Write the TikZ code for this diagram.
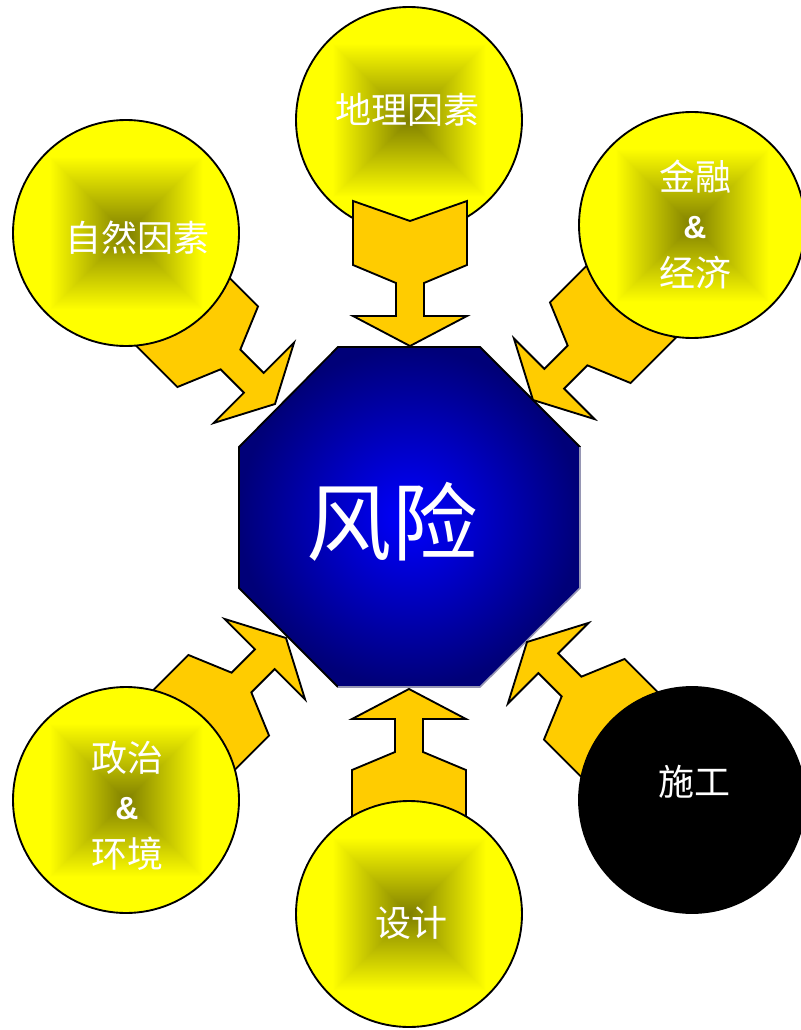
\documentclass[tikz,border=0pt]{standalone}
\usepackage{fontspec}
\newfontfamily\cjk{Noto Sans CJK SC}
\newfontfamily\ampfont{Liberation Sans}
\usepackage{tikz}

\definecolor{arrowgold}{RGB}{255,204,0}
\definecolor{riskblue}{RGB}{0,0,255}
\definecolor{risknavy}{RGB}{0,0,120}
\definecolor{octrim}{RGB}{150,150,180}

% square glow: olive in the middle, yellow towards the rim
\pgfdeclarefunctionalshading{sqglow}{\pgfpoint{-50bp}{-50bp}}{\pgfpoint{50bp}{50bp}}{}{
  abs exch abs 2 copy lt {exch} if pop
  17 div dup 1 gt {pop 1} if
  0.5 mul 0.5 add dup 0
}

\tikzset{
  arrowbody/.style={fill=arrowgold, draw=black, line width=1.4pt},
  disc/.style={circle, minimum size=169.5pt, inner sep=0pt, draw=black, line width=1.4pt},
  ball/.style={disc, shading=sqglow},
  lbl/.style={text=white, align=center, font=\cjk\fontsize{27}{36}\selectfont},
  feed/.pic={
    \draw[arrowbody] (0,0) -- (-30,57) -- (-30,14) -- (-63,14) -- (-81,57) -- (-145,57)
      -- (-125,0) -- (-145,-57) -- (-81,-57) -- (-63,-14) -- (-30,-14) -- (-30,-57) -- cycle;
  }
}

\begin{document}
\begin{tikzpicture}[x=0.75pt, y=-0.75pt]
                \useasboundingbox (0,0) rectangle (800,1030);

                % Top circle (under its arrow)
                \node[ball] (geo) at (409,120) {};

                % Octagon
                \shade[inner color=riskblue, outer color=risknavy] (338,347) -- (480,347) -- (580,447) -- (580,588)
                    -- (480,687) -- (338,687) -- (239,588) -- (239,447) -- cycle;
                \draw[line width=1.4pt] (580,588) -- (580,447) -- (480,347) -- (338,347) -- (239,447) -- (239,588) -- (338,687);
                \draw[octrim, line width=1.2pt] (580,447) -- (580,588) -- (480,687) -- (338,687);
                \node[font=\cjk\fontsize{64}{64}\selectfont, text=white] (risk) at (392,522) {风险};

                % Arrow tips on the octagon
                \coordinate (tgeo) at (410,346);
                \coordinate (tnat) at (275,404);
                \coordinate (tfin) at (533,400);
                \coordinate (tpol) at (286,638);
                \coordinate (tdes) at (409,689);
                \coordinate (tcon) at (527,642);

                % Arrows
                \pic[rotate=-90] at (tgeo) {feed};
                \pic[rotate=-45] at (tnat) {feed};
                \pic[rotate=-135] at (tfin) {feed};
                \pic[rotate=45] at (tpol) {feed};
                \pic[rotate=90] at (tdes) {feed};
                \pic[rotate=135] at (tcon) {feed};

                % Other circles (over their arrows)
                \node[ball] (nat) at (126,233) {};
                \node[ball] (fin) at (692,225) {};
                \node[ball] (pol) at (126,800) {};
                \node[ball] (des) at (409,914) {};
                \node[disc, fill=black] (con) at (692,800) {};

                % Labels
                \node[lbl] at (407,110) {地理因素};
                \node[lbl] at (137,238) {自然因素};
                \node[lbl] at (695,224) {金融\\{\ampfont\bfseries\fontsize{24}{36}\selectfont\&}\\经济};
                \node[lbl] at (127,806) {政治\\{\ampfont\bfseries\fontsize{24}{36}\selectfont\&}\\环境};
                \node[lbl] at (411,923) {设计};
                \node[lbl] at (694,782) {施工};

            \end{tikzpicture}
\end{document}
